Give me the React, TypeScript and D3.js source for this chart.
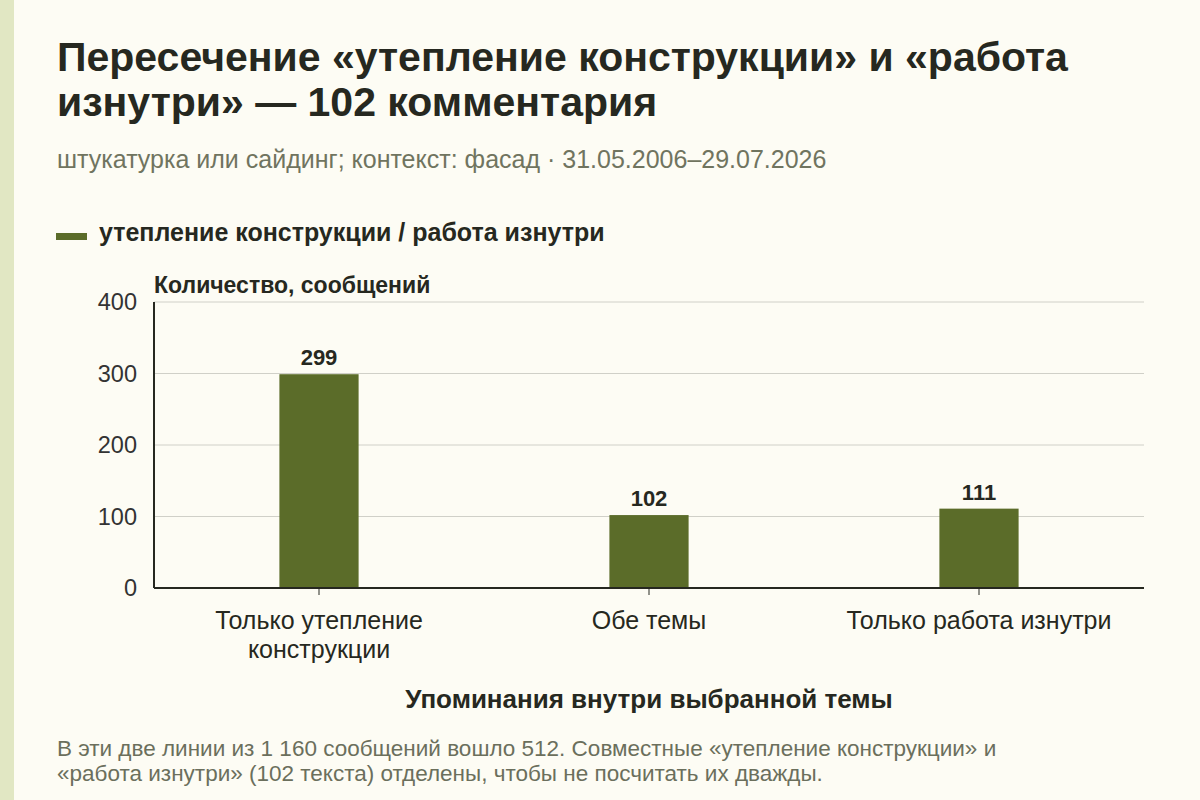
import * as React from 'react';
import * as d3 from 'd3';

const categories = ['Только утепление конструкции', 'Обе темы', 'Только работа изнутри'];
const categoryLines = [['Только утепление', 'конструкции'], ['Обе темы'], ['Только работа изнутри']];
const counts = [299, 102, 111];
const yTicks = [0, 100, 200, 300, 400];

const W = 1200;
const H = 800;
const margin = { left: 154, right: 56, top: 302, bottom: 212 };
const barColor = '#5b6c29';
const font = '"Liberation Sans", Arial, sans-serif';

const App: React.FC = () => {
    const x = d3.scaleBand<string>().domain(categories).range([margin.left, W - margin.right]).padding(0);
    const y = d3.scaleLinear().domain([0, 400]).range([H - margin.bottom, margin.top]);
    const barW = x.bandwidth() * 0.24;
    const x0 = margin.left;
    const x1 = W - margin.right;
    const yBase = y(0);

    return (
        <div style={{ position: 'absolute', left: 0, top: 0 }}>
            <svg width={W} height={H} style={{ display: 'block', fontFamily: font }}>
                <rect width={W} height={H} fill="#fdfcf4" />
                <rect width={14} height={H} fill="#e1e7c3" />

                {/* title */}
                <text x={57} y={71} fontSize={41} fontWeight="bold" fill="#262820">
                    Пересечение «утепление конструкции» и «работа
                </text>
                <text x={57} y={116} fontSize={41} fontWeight="bold" fill="#262820">
                    изнутри» — 102 комментария
                </text>
                <text x={57} y={168} fontSize={25} fill="#70745f">
                    штукатурка или сайдинг; контекст: фасад · 31.05.2006–29.07.2026
                </text>

                {/* legend */}
                <rect x={56} y={233} width={31} height={7} fill={barColor} />
                <text x={99} y={241} fontSize={25} fontWeight="bold" fill="#262820">
                    утепление конструкции / работа изнутри
                </text>

                <text x={x0} y={293} fontSize={23} fontWeight="bold" fill="#262820">
                    Количество, сообщений
                </text>

                {/* grid + y ticks */}
                {yTicks.map(t => (
                    <g key={t}>
                        {t > 0 && <line x1={x0} x2={x1} y1={y(t)} y2={y(t)} stroke="#d0d0c8" strokeWidth={1} />}
                        <text x={137} y={y(t)} dy="0.36em" textAnchor="end" fontSize={23.5} fill="#333">
                            {t}
                        </text>
                    </g>
                ))}

                {/* bars */}
                {categories.map((c, i) => {
                    const cx = (x(c) ?? 0) + x.bandwidth() / 2;
                    return (
                        <g key={c}>
                            <rect x={cx - barW / 2} y={y(counts[i])} width={barW} height={yBase - y(counts[i])} fill={barColor} />
                            <text x={cx} y={y(counts[i]) - 9} textAnchor="middle" fontSize={22} fontWeight="bold" fill="#262820">
                                {counts[i]}
                            </text>
                            <line x1={cx} x2={cx} y1={yBase} y2={yBase + 7} stroke="#262820" strokeWidth={1} />
                            {categoryLines[i].map((ln, j) => (
                                <text key={j} x={cx} y={629 + j * 29} textAnchor="middle" fontSize={25} fill="#262820">
                                    {ln}
                                </text>
                            ))}
                        </g>
                    );
                })}

                {/* axes */}
                <line x1={x0} x2={x0} y1={margin.top} y2={yBase} stroke="#262820" strokeWidth={2} />
                <line x1={x0} x2={x1} y1={yBase} y2={yBase} stroke="#262820" strokeWidth={2} />

                <text x={(x0 + x1) / 2} y={708} textAnchor="middle" fontSize={26} fontWeight="bold" fill="#262820">
                    Упоминания внутри выбранной темы
                </text>

                {/* footnote */}
                <text x={57} y={756} fontSize={22.5} fill="#6b6f5c">
                    В эти две линии из 1 160 сообщений вошло 512. Совместные «утепление конструкции» и
                </text>
                <text x={57} y={781} fontSize={22.5} fill="#6b6f5c">
                    «работа изнутри» (102 текста) отделены, чтобы не посчитать их дважды.
                </text>
            </svg>
        </div>
    );
};

export default App;
